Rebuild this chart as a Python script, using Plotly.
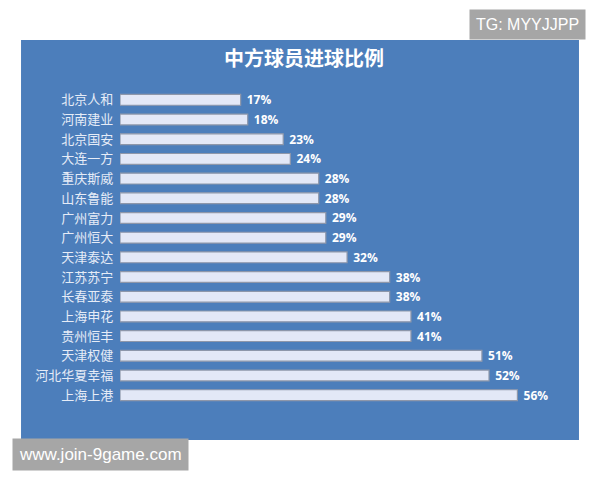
import plotly.graph_objects as go

# 中超各队中方球员进球占比（%）
teams = ["北京人和", "河南建业", "北京国安", "大连一方", "重庆斯威", "山东鲁能",
         "广州富力", "广州恒大", "天津泰达", "江苏苏宁", "长春亚泰", "上海申花",
         "贵州恒丰", "天津权健", "河北华夏幸福", "上海上港"]
share = [17, 18, 23, 24, 28, 28, 29, 29, 32, 38, 38, 41, 41, 51, 52, 56]

panel_blue = "#4c7ebb"

fig = go.Figure()
fig.add_trace(go.Bar(
    x=share,
    y=teams,
    orientation="h",
    marker=dict(color="#e3e8f7", line=dict(color="#8e97aa", width=1.2)),
    texttemplate="<b> %{x}%</b>",
    textposition="outside",
    constraintext="none",
    textfont=dict(color="white", size=12, family="Open Sans"),
    cliponaxis=False,
))

# page body has an 8px margin, so the figure is drawn 8px smaller
fig.update_layout(
    width=592,
    height=472,
    margin=dict(l=0, r=0, t=0, b=0),
    paper_bgcolor="white",
    plot_bgcolor="rgba(0,0,0,0)",
    showlegend=False,
    bargap=0.45,
    font=dict(family="Noto Sans CJK SC"),
    xaxis=dict(domain=[0.1892, 0.9324], range=[0, 62], visible=False),
    yaxis=dict(
        domain=[0.1589, 0.8263],
        autorange="reversed",
        showgrid=False,
        showline=False,
        ticks="",
        ticksuffix="  ",
        tickfont=dict(color="#e6ecf7", size=13, family="Noto Sans CJK SC"),
    ),
    shapes=[
        # blue chart panel
        dict(type="rect", xref="paper", yref="paper", x0=0.022, x1=0.9645,
             y0=0.0847, y1=0.9322, fillcolor=panel_blue, line=dict(width=0),
             layer="below"),
    ],
    annotations=[
        dict(text="<b>中方球员进球比例</b>", xref="paper", yref="paper",
             x=0.5, y=0.896, yanchor="middle", showarrow=False,
             font=dict(color="white", size=20, family="Noto Sans CJK SC")),
        dict(text="TG: MYYJJPP", xref="paper", yref="paper",
             x=0.8767, y=0.964, xanchor="center", yanchor="middle",
             showarrow=False, bgcolor="#a6a6a6", borderpad=6,
             font=dict(color="white", size=16, family="Liberation Sans")),
        dict(text="www.join-9game.com", xref="paper", yref="paper",
             x=0.157, y=0.053, xanchor="center", yanchor="middle",
             showarrow=False, bgcolor="#a6a6a6", borderpad=6,
             font=dict(color="white", size=17, family="Liberation Sans")),
    ],
)

fig.write_html("out.html")
